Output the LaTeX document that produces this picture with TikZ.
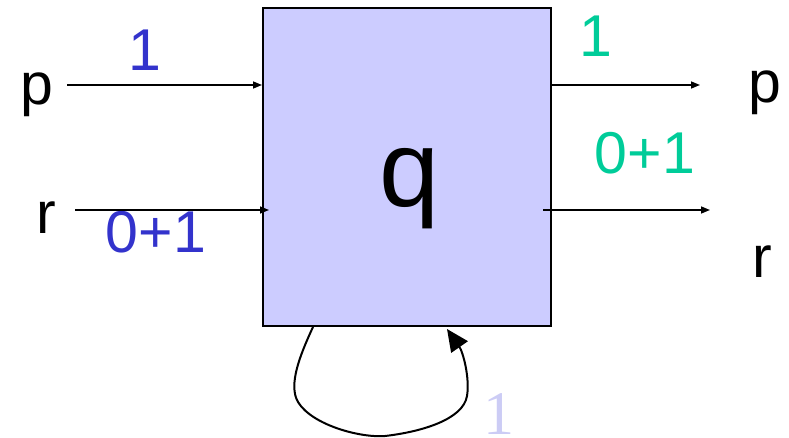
\documentclass[tikz,border=0pt]{standalone}
\usepackage{fontspec}
\setmainfont{Liberation Sans}
\newfontfamily\serifnum{Liberation Serif}
\usetikzlibrary{arrows.meta}
\definecolor{boxfill}{RGB}{204,204,255}
\definecolor{lblue}{RGB}{51,51,204}
\definecolor{lgreen}{RGB}{0,204,153}
\definecolor{lloop}{RGB}{204,204,245}
\tikzset{
  big/.style={inner sep=0pt, font=\fontsize{59}{60}\selectfont},
  flow/.style={line width=1.5pt, -{Triangle[length=9pt,width=7pt]}},
}
\begin{document}
\begin{tikzpicture}[x=1pt,y=-1pt]
\useasboundingbox (0,0) rectangle (789,438);
\node[draw, line width=2pt, fill=boxfill, minimum width=288pt, minimum height=318pt, inner sep=0pt] (box) at (407,167) {};
\node[inner sep=0pt, font=\fontsize{108}{108}\selectfont] (q) at (410,189) {q};
% left labels
\node[big] (pl) at (37,95) {p};
\node[big] (rl) at (46,218) {r};
\node[big, text=lblue] (b1) at (145,50) {1};
\node[big, text=lblue] (b01) at (156,232) {0+1};
% right labels
\node[big] (pr) at (765,93) {p};
\node[big] (rr) at (762,262) {r};
\node[big, text=lgreen] (g1) at (596,36) {1};
\node[big, text=lgreen] (g01) at (645,153) {0+1};
\node[inner sep=0pt, text=lloop, font=\serifnum\fontsize{62}{62}\selectfont] (l1) at (499,414) {1};
% connector coordinates
\coordinate (pin) at (67,85);
\coordinate (rin) at (75,210);
\coordinate (pout) at (700,85);
\coordinate (rout) at (710,210);
\coordinate (rstart) at (543,210);
\coordinate (loopa) at (313,327);
\coordinate (loopb) at (447,329);
\draw[flow] (pin) -- (pin -| box.west);
\draw[flow] (rin) -- ([xshift=7pt]rin -| box.west);
\draw[flow] (pout -| box.east) -- (pout);
\draw[flow] (rstart) -- (rout);
\draw[line width=2pt, -{Triangle[length=22pt,width=20pt]}]
  (loopa) .. controls (300,355) and (288,385) .. (298,402)
  .. controls (312,425) and (360,438) .. (385,436)
  .. controls (420,432) and (463,420) .. (467,396)
  .. controls (470,378) and (463,352) .. (loopb);
\end{tikzpicture}
\end{document}
